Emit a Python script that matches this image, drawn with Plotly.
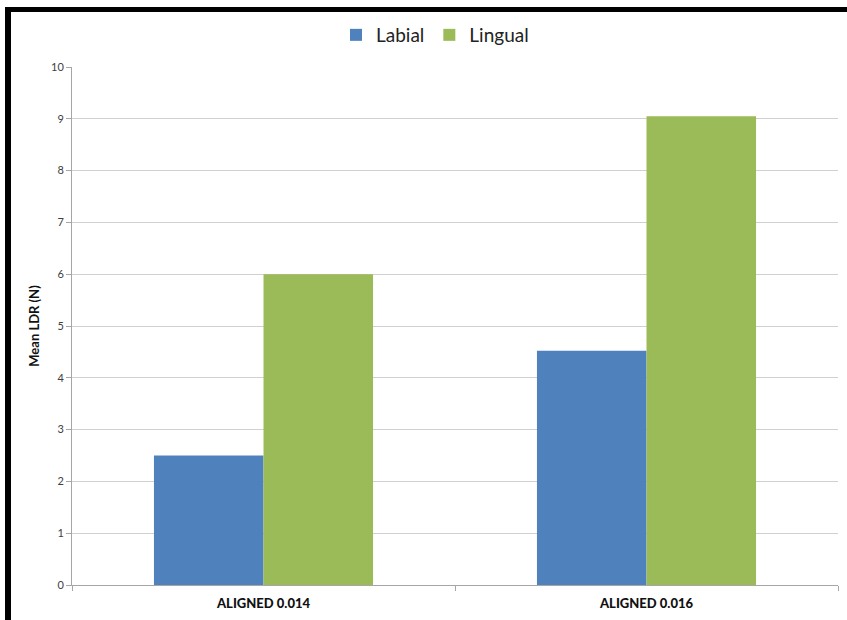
import plotly.graph_objects as go

categories = ["ALIGNED 0.014", "ALIGNED 0.016"]
labial = [2.5, 4.52]
lingual = [6.0, 9.05]
y_ticks = [0, 1, 2, 3, 4, 5, 6, 7, 8, 9, 10]

W, H = 847, 620
L, R, T, B = 72, 9, 67, 35
pw, ph = W - L - R, H - T - B

def px(x):
    return (x - L) / pw

def py(y):
    return (H - B - y) / ph

fig = go.Figure()
fig.add_trace(go.Bar(name="Labial", x=categories, y=labial, marker=dict(color="#4F81BD", line=dict(width=0))))
fig.add_trace(go.Bar(name="Lingual", x=categories, y=lingual, marker=dict(color="#9BBB59", line=dict(width=0))))

fig.update_layout(
    width=W, height=H,
    margin=dict(l=L, r=R, t=T, b=B),
    barmode="group", bargap=0.428, bargroupgap=0,
    plot_bgcolor="white", paper_bgcolor="white",
    font=dict(family="Lato, Liberation Sans, sans-serif", color="#404040"),
    legend=dict(orientation="h", x=px(435), xanchor="center", y=py(35), yanchor="middle",
                font=dict(size=19, color="#222222"), itemwidth=30, traceorder="normal"),
    xaxis=dict(showline=True, linecolor="#a6a6a6", linewidth=1, ticks="outside", tickson="boundaries",
               ticklen=5, tickcolor="#a6a6a6",
               tickfont=dict(size=13, color="#111111", family="Lato Black, Lato, sans-serif"),
               showgrid=False, range=[-0.5, 1.5]),
    yaxis=dict(range=[0, 10], tickvals=y_ticks, showline=True, linecolor="#a6a6a6", linewidth=1,
               ticks="outside", ticklen=5, tickcolor="#a6a6a6",
               gridcolor="#d0d0d0", gridwidth=1, zeroline=False,
               tickfont=dict(size=11, color="#404040"),
               title=dict(text="<b>Mean LDR (N)</b>", font=dict(size=13, color="#111111"), standoff=8)),
    showlegend=True,
)
fig.update_xaxes(ticklabelstandoff=6)

# black frame edges (left and top)
fig.add_shape(type="rect", xref="paper", yref="paper", x0=px(5), x1=px(11), y0=py(620), y1=py(7),
              fillcolor="black", line=dict(width=0), layer="above")
fig.add_shape(type="rect", xref="paper", yref="paper", x0=px(5), x1=px(847), y0=py(12), y1=py(7),
              fillcolor="black", line=dict(width=0), layer="above")

fig.write_html("out.html")
